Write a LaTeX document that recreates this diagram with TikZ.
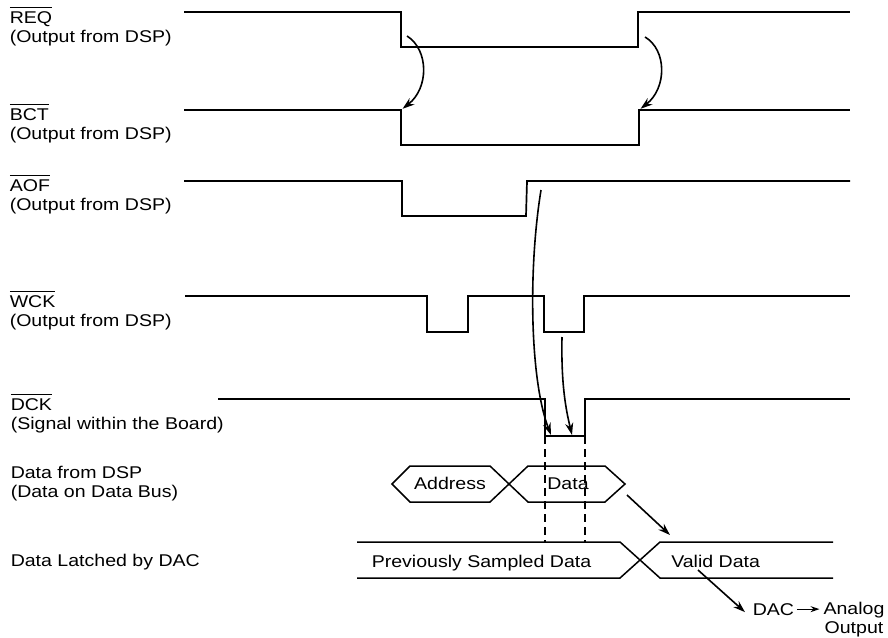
\documentclass[tikz,border=0pt]{standalone}
\usepackage{fontspec}
\setmainfont[FakeStretch=1.15]{Liberation Sans}
\usepackage{tikz}
\usetikzlibrary{positioning, arrows.meta, calc}

\newcommand{\lowact}[1]{%
  \setbox0\hbox{#1}%
  \rlap{\rule[\dimexpr\ht0+3.5pt\relax]{\wd0}{1.1pt}}\box0}

\tikzset{
  timing/.style={x=1pt, y=-1pt, line width=1.5pt,
    font=\fontsize{17}{18.5}\selectfont},
  wave/.style={line width=1.7pt},
  bus/.style={line width=1.5pt},
  siglabel/.style={anchor=base west, align=left, inner sep=0pt},
  guide/.style={line width=1.6pt, dash pattern=on 8pt off 5pt},
  cause/.style={line width=1.6pt, -{Stealth[length=12pt, width=8pt]}},
  small cause/.style={line width=1.3pt, -{Stealth[length=9pt, width=6pt]}}
}

\begin{document}
\begin{tikzpicture}[timing]
  \useasboundingbox (0,0) rectangle (888,637);
  % signal names (anchored on the last line)
  \node[siglabel] (req)   at (9,42)   {\lowact{REQ}\\(Output from DSP)};
  \node[siglabel] (bct)   at (9,139)  {\lowact{BCT}\\(Output from DSP)};
  \node[siglabel] (aof)   at (9,210)  {\lowact{AOF}\\(Output from DSP)};
  \node[siglabel] (wck)   at (9,326)  {\lowact{WCK}\\(Output from DSP)};
  \node[siglabel] (dck)   at (10,429) {\lowact{DCK}\\(Signal within the Board)};
  \node[siglabel] (dbus)  at (10,497) {Data from DSP\\(Data on Data Bus)};
  \node[siglabel] (latch) at (10,566) {Data Latched by DAC};
%
  % waveforms
  \draw[wave] (184,12) -- (401,12) -- (401,47) -- (638,47) -- (638,12) -- (850,12);
  \draw[wave] (184,110) -- (401,110) coordinate (bct fall) -- (401,145) -- (639,145)
    -- (639,110) coordinate (bct rise) -- (850,110);
  \draw[wave] (184,181) -- (402,181) -- (402,216) -- (526,216) -- (527,181) -- (850,181);
  \draw[wave] (185,296) -- (427,296) -- (427,332) -- (468,332) -- (468,296)
    -- (544,296) -- (544,332) -- (584,332) -- (584,296) -- (850,296);
  \draw[wave] (218,399) -- (545,399) -- (545,436) coordinate (dck fall)
    -- (585,436) coordinate (dck rise) -- (585,399) -- (850,399);
%
  % buses
  \draw[bus] (392,484) -- (410,466) -- (490,466) -- (528,502) -- (605,502)
    -- (625,484) coordinate (data tip) -- (605,466) -- (528,466) -- (490,502)
    -- (410,502) -- cycle;
  \node[anchor=base] (addr) at (450,489.5) {Address};
  \node[anchor=base] (data) at (568,489.5) {Data};
  \draw[bus] (357,542) coordinate (latch top) -- (620,542) -- (660,578) -- (833,578);
  \draw[bus] (357,578) -- (620,578) -- (660,542) coordinate (valid corner) -- (833,542);
  \node[anchor=base west, inner sep=0pt] (prev)  at (371,567)   {Previously Sampled Data};
  \node[anchor=base west, inner sep=0pt] (valid) at (670.5,567) {Valid Data};
  \draw[guide] (dck fall) -- (dck fall |- latch top);
  \draw[guide] (dck rise) -- (dck rise |- latch top);
%
  % causes
  \draw[cause, shorten >=2pt] (407,36) .. controls (429,50) and (429,88) .. (bct fall);
  \draw[cause, shorten >=2pt] (645,37) .. controls (667,50) and (667,88) .. (bct rise);
  \draw[cause] (541,190) .. controls (528,270) and (530,380) .. ($(dck fall)+(6,-1)$);
  \draw[cause] (562,337) .. controls (561,385) and (566,410) .. ($(dck fall)+(27,-1)$);
  \draw[cause] ($(data tip)+(2,11)$) -- ($(valid corner)+(10,-7)$);
  \node[anchor=base west, inner sep=2pt] (dac) at (750,615) {DAC};
  \node[align=center, anchor=base] (analog) at (854,633) {Analog\\Output};
  \coordinate (vd) at (698,570);
  \draw[cause] (vd) -- ($(dac.west)+(-5,3)$);
  \draw[small cause] (dac.east) -- (dac.east -| analog.west);
\end{tikzpicture}
\end{document}
